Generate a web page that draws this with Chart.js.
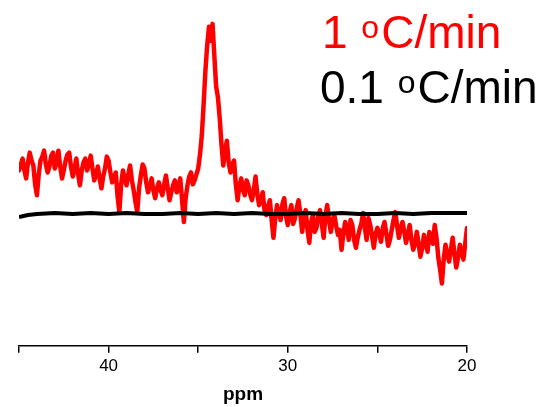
<!DOCTYPE html>
<html>
<head>
<meta charset="utf-8">
<script src="https://cdn.jsdelivr.net/npm/chart.js@4"></script>
<style>
  body { margin: 0; background: #fff; }
</style>
</head>
<body>
<canvas id="nmrChart" width="547" height="407"></canvas>
<script>
// ppm axis for the 1 C/min trace
const ppmFast = [
  45.0, 44.9, 44.8, 44.7, 44.6, 44.5, 44.4, 44.3, 44.2, 44.1,
  44.0, 43.9, 43.8, 43.7, 43.6, 43.5, 43.4, 43.3, 43.2, 43.1,
  43.0, 42.9, 42.8, 42.7, 42.6, 42.5, 42.4, 42.3, 42.2, 42.1,
  42.0, 41.9, 41.8, 41.7, 41.6, 41.5, 41.4, 41.3, 41.2, 41.1,
  41.0, 40.9, 40.8, 40.7, 40.6, 40.5, 40.4, 40.3, 40.2, 40.1,
  40.0, 39.9, 39.8, 39.7, 39.6, 39.5, 39.4, 39.3, 39.2, 39.1,
  39.0, 38.9, 38.8, 38.7, 38.6, 38.5, 38.4, 38.3, 38.2, 38.1,
  38.0, 37.9, 37.8, 37.7, 37.6, 37.5, 37.4, 37.3, 37.2, 37.1,
  37.0, 36.9, 36.8, 36.7, 36.6, 36.5, 36.4, 36.3, 36.2, 36.1,
  36.0, 35.9, 35.8, 35.7, 35.6, 35.5, 35.4, 35.3, 35.2, 35.1,
  35.0, 34.9, 34.8, 34.7, 34.6, 34.5, 34.4, 34.3, 34.2, 34.1,
  34.0, 33.9, 33.8, 33.7, 33.6, 33.5, 33.4, 33.3, 33.2, 33.1,
  33.0, 32.9, 32.8, 32.7, 32.6, 32.5, 32.4, 32.3, 32.2, 32.1,
  32.0, 31.9, 31.8, 31.7, 31.6, 31.5, 31.4, 31.3, 31.2, 31.1,
  31.0, 30.9, 30.8, 30.7, 30.6, 30.5, 30.4, 30.3, 30.2, 30.1,
  30.0, 29.9, 29.8, 29.7, 29.6, 29.5, 29.4, 29.3, 29.2, 29.1,
  29.0, 28.9, 28.8, 28.7, 28.6, 28.5, 28.4, 28.3, 28.2, 28.1,
  28.0, 27.9, 27.8, 27.7, 27.6, 27.5, 27.4, 27.3, 27.2, 27.1,
  27.0, 26.9, 26.8, 26.7, 26.6, 26.5, 26.4, 26.3, 26.2, 26.1,
  26.0, 25.9, 25.8, 25.7, 25.6, 25.5, 25.4, 25.3, 25.2, 25.1,
  25.0, 24.9, 24.8, 24.7, 24.6, 24.5, 24.4, 24.3, 24.2, 24.1,
  24.0, 23.9, 23.8, 23.7, 23.6, 23.5, 23.4, 23.3, 23.2, 23.1,
  23.0, 22.9, 22.8, 22.7, 22.6, 22.5, 22.4, 22.3, 22.2, 22.1,
  22.0, 21.9, 21.8, 21.7, 21.6, 21.5, 21.4, 21.3, 21.2, 21.1,
  21.0, 20.9, 20.8, 20.7, 20.6, 20.5, 20.4, 20.3, 20.2, 20.1,
  20.0
];
const fastSignal = [
  44, 50, 56, 44, 36, 52, 62, 54, 49, 30,
  19, 40, 54, 58, 64, 50, 42, 48, 59, 62,
  46, 52, 64, 48, 36, 44, 54, 60, 62, 48,
  38, 46, 56, 40, 29, 44, 52, 56, 44, 50,
  59, 46, 34, 40, 48, 36, 26, 38, 46, 58,
  54, 42, 32, 36, 42, 18, 2, 30, 44, 36,
  29, 40, 49, 34, 24, 12, 2, 26, 39, 50,
  46, 32, 22, 28, 36, 24, 16, 26, 32, 24,
  19, 30, 39, 26, 14, 22, 29, 34, 22, 26,
  36, 14, -8, 16, 29, 38, 42, 30, 34, 40,
  46, 60, 79, 110, 144, 170, 189, 175, 192, 160,
  129, 118, 97, 70, 49, 64, 74, 52, 42, 50,
  54, 30, 14, 28, 36, 24, 19, 34, 29, 20,
  14, 24, 38, 20, 9, 16, 22, 4, -1, 8,
  14, -6, -24, -4, 9, 0, -6, 10, 16, -2,
  -11, 2, 9, -10, -4, 6, 14, 0, -18, -4,
  4, -16, -29, -8, -1, -18, -14, -2, 4, -10,
  -24, -2, 9, -6, -18, -6, -1, -12, -21, -16,
  -36, -20, -8, -14, -26, -6, -11, -26, -34, -24,
  -16, -10, 1, -14, -26, -4, -11, -22, -34, -20,
  -14, -20, -28, -14, -8, -20, -32, -26, -16, -6,
  2, -12, -24, -14, -8, -18, -29, -20, -11, -26,
  -36, -30, -18, -30, -43, -34, -21, -30, -38, -18,
  -24, -30, -11, -24, -44, -56, -70, -46, -31, -40,
  -48, -36, -24, -40, -54, -44, -31, -38, -46, -30,
  -14
];

// 0.1 C/min trace, nearly flat
const ppmSlow = [
  45, 44.5, 44, 43, 42, 41, 40, 39, 38, 37, 36, 35, 34,
  33, 32, 31, 30, 29, 28, 27, 26, 25, 24, 23, 22, 21, 20
];
const slowSignal = [
  -3, -1, 0, 1, 0, 1, 0, 1, 0, 0, 1, 0, 1,
  0, 1, 0, 0, 1, 0, 1, 0, 0, 1, 0, 1, 1, 1
];

const xTicks = [45, 40, 35, 30, 25, 20];
const labelFast = ['1 ', 'o', 'C/min'];
const labelSlow = ['0.1 ', 'o', 'C/min'];

function toPoints(xs, ys) {
  return xs.map(function(x, i) { return { x: x, y: ys[i] }; });
}

// draws the two rate labels with a small raised "o"
const rateLabels = {
  id: 'rateLabels',
  afterDraw: function(chart) {
    const ctx = chart.ctx;
    function drawLabel(parts, x, y, color) {
      ctx.save();
      ctx.fillStyle = color;
      ctx.textBaseline = 'alphabetic';
      ctx.font = '46px "Liberation Sans", Arial, sans-serif';
      ctx.fillText(parts[0], x, y);
      x += ctx.measureText(parts[0]).width + 1;
      ctx.font = '32px "Liberation Sans", Arial, sans-serif';
      ctx.fillText(parts[1], x, y - 10);
      x += ctx.measureText(parts[1]).width + 2;
      ctx.font = '46px "Liberation Sans", Arial, sans-serif';
      ctx.fillText(parts[2], x, y);
      ctx.restore();
    }
    drawLabel(labelFast, 322, 48, '#ff0000');
    drawLabel(labelSlow, 320, 103, '#000000');
  }
};

new Chart(document.getElementById('nmrChart'), {
  type: 'line',
  data: {
    datasets: [
      {
        label: '0.1 oC/min',
        data: toPoints(ppmSlow, slowSignal),
        borderColor: '#000000',
        borderWidth: 4,
        borderJoinStyle: 'round',
        pointRadius: 0,
        tension: 0
      },
      {
        label: '1 oC/min',
        data: toPoints(ppmFast, fastSignal),
        borderColor: '#ff0000',
        borderWidth: 4.5,
        borderJoinStyle: 'round',
        borderCapStyle: 'round',
        pointRadius: 0,
        tension: 0
      }
    ]
  },
  options: {
    responsive: false,
    animation: false,
    layout: { padding: { left: 19, right: 80, top: 10, bottom: 1 } },
    plugins: {
      legend: { display: false },
      tooltip: { enabled: false }
    },
    scales: {
      x: {
        type: 'linear',
        reverse: true,
        min: 20,
        max: 45,
        afterBuildTicks: function(axis) {
          axis.ticks = xTicks.map(function(v) { return { value: v }; });
        },
        grid: {
          drawOnChartArea: false,
          drawTicks: true,
          tickLength: 7,
          color: '#000000',
          lineWidth: 1.5
        },
        border: { display: true, color: '#000000', width: 1.5 },
        ticks: {
          color: '#000000',
          padding: 3,
          maxRotation: 0,
          font: { family: '"Liberation Sans", Arial, sans-serif', size: 17 },
          callback: function(v) { return v % 10 === 0 ? String(v) : ''; }
        },
        title: {
          display: true,
          text: 'ppm',
          color: '#000000',
          padding: { top: 4, bottom: 0 },
          font: { family: '"Liberation Sans", Arial, sans-serif', size: 19, weight: 'bold' }
        }
      },
      y: {
        display: false,
        min: -133,
        max: 206
      }
    }
  },
  plugins: [rateLabels]
});
</script>
</body>
</html>
